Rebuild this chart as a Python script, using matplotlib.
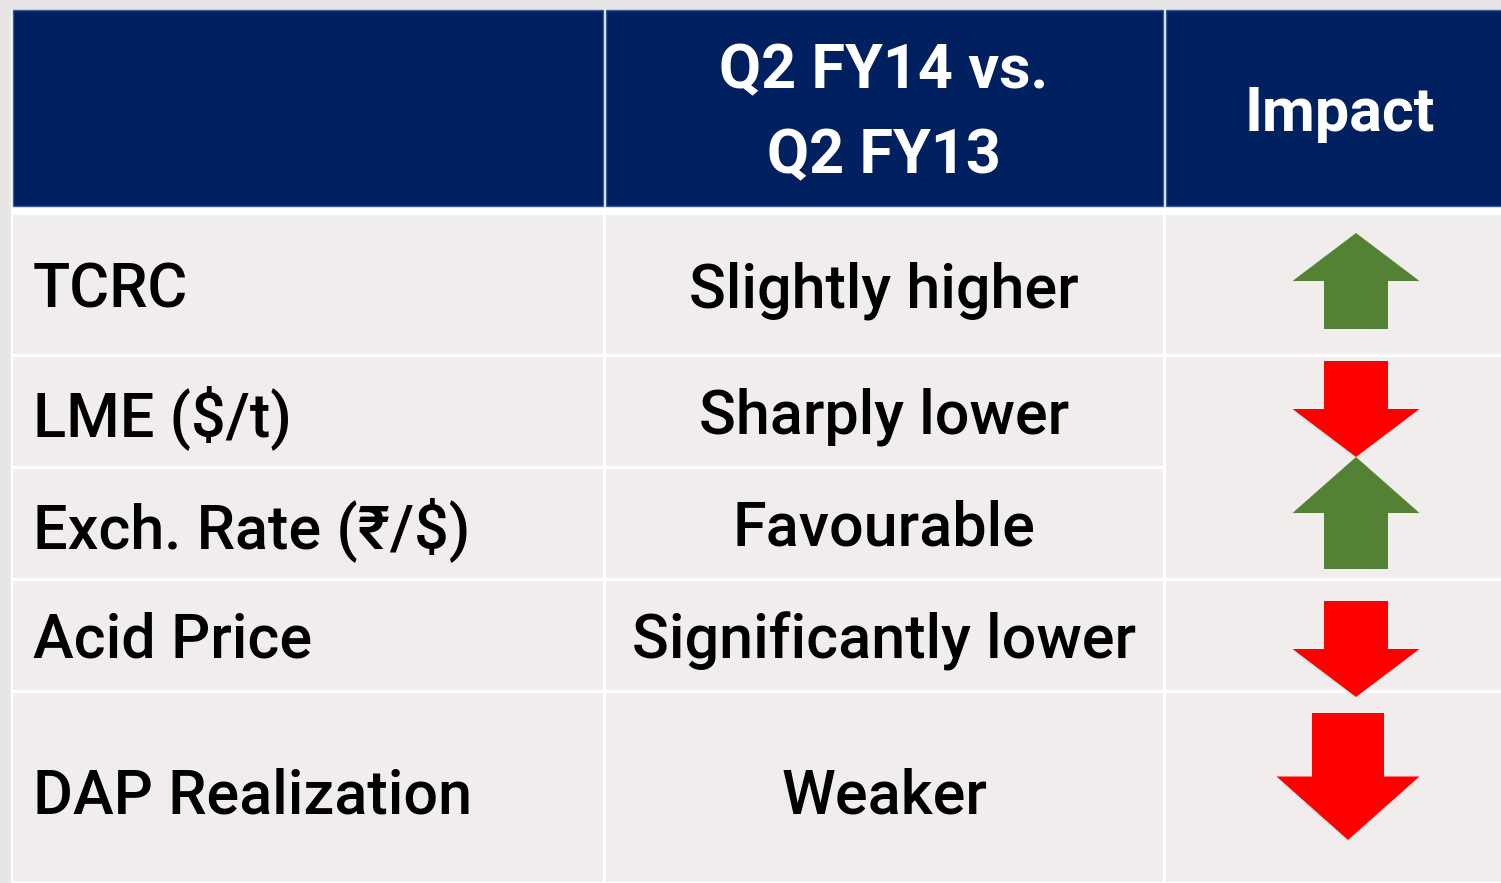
import matplotlib.pyplot as plt
from matplotlib.patches import Rectangle, Polygon

# table content
headers = ["", "Q2 FY14 vs.\nQ2 FY13", "Impact"]
factors = ["TCRC", "LME ($/t)", "Exch. Rate (₹/$)", "Acid Price", "DAP Realization"]
changes = ["Slightly higher", "Sharply lower", "Favourable", "Significantly lower", "Weaker"]
impact = ["up", "down", "up", "down", "down"]

# layout (pixels); last column runs past the right edge of the picture
W, H = 1501, 883
col_edges = [11, 604, 1164, 1516]
head_top, head_bot = 10, 206
row_edges = [213, 355, 467, 579, 691, 883]
impact_groups = [[0], [1, 2], [3], [4]]   # merged cells in the impact column
# arrow boxes: (centre x, top, bottom, width, shaft width)
arrow_boxes = [(1356, 233, 329, 127, 64),
               (1356, 361, 457, 127, 64),
               (1356, 457, 569, 127, 64),
               (1356, 601, 697, 127, 64),
               (1348, 713, 840, 143, 72)]

navy = "#002060"
cell_bg = "#f2eded"
green = "#548235"
red = "#ff0000"
gap = 1.5

body_font = ["Roboto", "DejaVu Sans"]

fig = plt.figure(figsize=(W / 100, H / 100), dpi=100)
fig.patch.set_facecolor("#e6e6e6")
ax = fig.add_axes([0, 0, 1, 1])
ax.set_xlim(0, W)
ax.set_ylim(H, 0)
ax.axis("off")

# white table body
ax.add_patch(Rectangle((col_edges[0], head_top), W - col_edges[0], H - head_top,
                       facecolor="white", edgecolor="none"))

# header
for c in range(3):
    x0, x1 = col_edges[c], col_edges[c + 1]
    ax.add_patch(Rectangle((x0 + gap, head_top), x1 - x0 - 2 * gap, head_bot - head_top,
                           facecolor=navy, edgecolor="#3b5a98", lw=1))
    lines = headers[c].split("\n")
    cy = (head_top + head_bot) / 2
    pitch = 85
    for i, line in enumerate(lines):
        y = cy + (i - (len(lines) - 1) / 2) * pitch
        ax.text((x0 + x1) / 2, y, line, color="white", fontsize=44, fontweight="bold",
                family=body_font, ha="center", va="center_baseline")

# body cells
for r in range(len(factors)):
    y0, y1 = row_edges[r], row_edges[r + 1]
    for c in range(2):
        x0, x1 = col_edges[c], col_edges[c + 1]
        ax.add_patch(Rectangle((x0 + gap, y0 + gap), x1 - x0 - 2 * gap, y1 - y0 - 2 * gap,
                               facecolor=cell_bg, edgecolor="none"))
    cy = (y0 + y1) / 2 + (4 if r == len(factors) - 1 else 0)
    ax.text(33, cy, factors[r], fontsize=44, fontweight="medium", family=body_font,
            ha="left", va="center_baseline", color="black")
    ax.text((col_edges[1] + col_edges[2]) / 2, cy, changes[r], fontsize=44,
            fontweight="medium", family=body_font, ha="center", va="center_baseline",
            color="black")

for g in impact_groups:
    y0, y1 = row_edges[g[0]], row_edges[g[-1] + 1]
    x0, x1 = col_edges[2], col_edges[3]
    ax.add_patch(Rectangle((x0 + gap, y0 + gap), x1 - x0, y1 - y0 - 2 * gap,
                           facecolor=cell_bg, edgecolor="none"))

# arrows
for d, (cx, top, bot, w, sw) in zip(impact, arrow_boxes):
    hh = (bot - top) / 2
    if d == "up":
        pts = [(cx, top), (cx + w / 2, top + hh), (cx + sw / 2, top + hh), (cx + sw / 2, bot),
               (cx - sw / 2, bot), (cx - sw / 2, top + hh), (cx - w / 2, top + hh)]
        col = green
    else:
        pts = [(cx, bot), (cx + w / 2, bot - hh), (cx + sw / 2, bot - hh), (cx + sw / 2, top),
               (cx - sw / 2, top), (cx - sw / 2, bot - hh), (cx - w / 2, bot - hh)]
        col = red
    ax.add_patch(Polygon(pts, closed=True, facecolor=col, edgecolor="none"))

plt.savefig("out.png", dpi=100, facecolor=fig.get_facecolor())
